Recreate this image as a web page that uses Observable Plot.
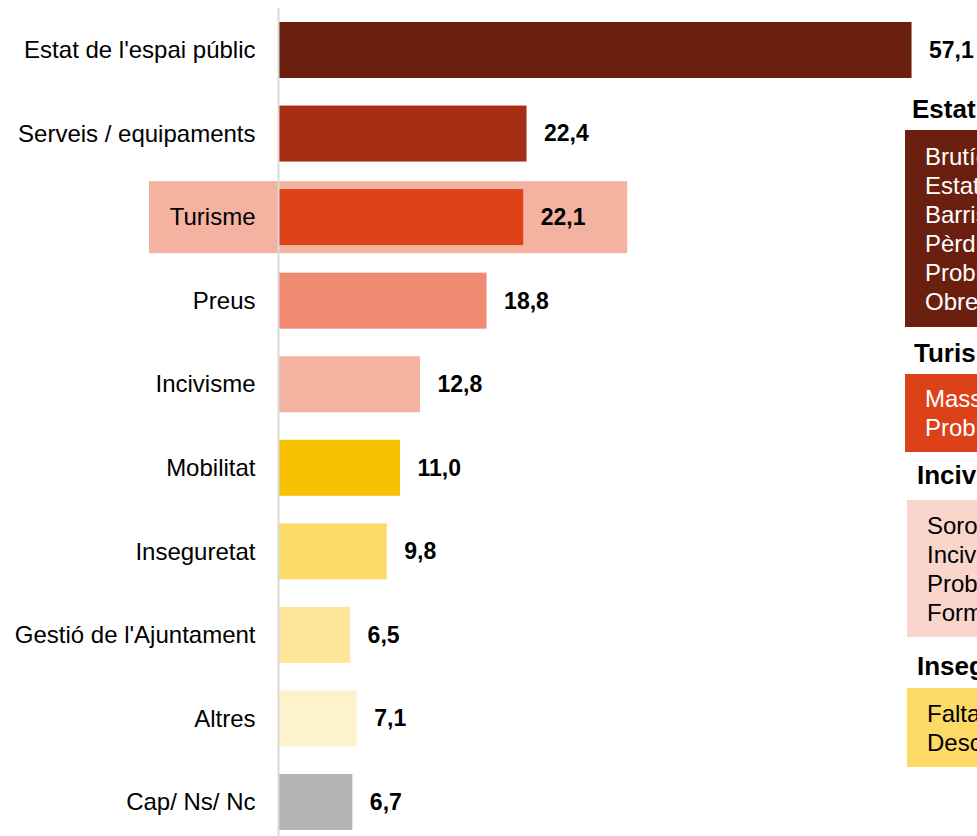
<!DOCTYPE html>
<html><head><meta charset="utf-8">
<script src="https://cdn.jsdelivr.net/npm/d3@7"></script>
<script src="https://cdn.jsdelivr.net/npm/@observablehq/plot@0.6"></script>
<style>
html,body{margin:0;padding:0;background:#fff;overflow:hidden;width:977px;height:836px;}
#wrap{position:relative;width:977px;height:836px;overflow:hidden;font-family:"Liberation Sans",Arial,sans-serif;}
#chart{position:absolute;left:0;top:0;}
.ttl{position:absolute;font-weight:bold;font-size:26px;line-height:29px;white-space:nowrap;color:#000;}
.box{position:absolute;width:420px;font-size:24px;line-height:29px;white-space:nowrap;box-sizing:border-box;}
</style></head><body><div id="wrap"><div id="chart"></div></div>
<script>
const categories = ["Estat de l'espai públic","Serveis / equipaments","Turisme","Preus","Incivisme","Mobilitat","Inseguretat","Gestió de l'Ajuntament","Altres","Cap/ Ns/ Nc"];
const values = [57.1,22.4,22.1,18.8,12.8,11.0,9.8,6.5,7.1,6.7];
const colors = ["#6b1f0f","#a52e14","#dd4118","#f08a72","#f4b2a0","#f5c100","#fdd966","#fde699","#fef2cc","#b3b3b3"];
const highlighted = "Turisme";
const highlightColor = "#f4b2a0";

const panelTitles = ["Estat de l'espai públic","Turisme","Incivisme","Inseguretat"];
const panelItems = [
  ["Brutícia","Estat dels carrers i voreres","Barris abandonats","Pèrdua de comerç","Problemes de manteniment","Obres"],
  ["Massificació turística","Problemes derivats del turisme"],
  ["Sorolls","Incivisme","Problemes de convivència","Formes de vida"],
  ["Falta de seguretat","Descontrol"]
];
const panelColors = ["#6b1f0f","#dd4118","#f9d5cc","#fdd966"];
const panelTextColors = ["#fff","#fff","#000","#000"];

const data = categories.map((c,i)=>({category:c, value:values[i], color:colors[i]}));
const fmt = v => d3.format(".1f")(v).replace(".", ",");

const plot = Plot.plot({
  width: 977, height: 836,
  marginLeft: 278, marginRight: 0, marginTop: 22, marginBottom: 6,
  style: {fontFamily: "'Liberation Sans', Arial, sans-serif", fontSize: "24px", color: "#000", background: "transparent", overflow: "visible"},
  x: {domain: [0, 63], axis: null},
  y: {domain: categories, paddingInner: 0.33, paddingOuter: 0, round: false, axis: null},
  color: {type: "identity"},
  marks: [
    Plot.barX(data.filter(d => d.category === highlighted), {
      x1: 0, x2: "value", y: "category", fill: highlightColor,
      insetLeft: -129, insetRight: -104, insetTop: -8, insetBottom: -8
    }),
    Plot.barX(data, {x: "value", y: "category", fill: "color"}),
    Plot.ruleX([0], {stroke: "#d9d9d9", strokeWidth: 2, insetTop: -14, insetBottom: -6}),
    Plot.text(data, {y: "category", text: "category", frameAnchor: "left", dx: -23, textAnchor: "end", fontSize: 24, fill: "#000"}),
    Plot.text(data, {x: "value", y: "category", text: d => fmt(d.value), dx: 17, textAnchor: "start", fontWeight: "bold", fontSize: 23, fill: "#000"})
  ]
});
document.getElementById("chart").appendChild(plot);

// side panel (annotation boxes, partially cut by the page edge)
const wrap = document.getElementById("wrap");
const titleLayout = [{left:912, top:95},{left:914, top:339},{left:917, top:461},{left:917, top:652}];
const boxLayout = [{left:905, top:130, bottom:327, pad:20},{left:905, top:374, bottom:452, pad:20},{left:907, top:500, bottom:637, pad:20},{left:907, top:688, bottom:767, pad:20}];
panelTitles.forEach((t,i)=>{
  const el = document.createElement("div");
  el.className = "ttl";
  el.textContent = t;
  el.style.left = titleLayout[i].left + "px";
  el.style.top = titleLayout[i].top + "px";
  wrap.appendChild(el);
  const b = document.createElement("div");
  b.className = "box";
  const L = boxLayout[i];
  b.style.left = L.left + "px";
  b.style.top = L.top + "px";
  b.style.height = (L.bottom - L.top) + "px";
  b.style.background = panelColors[i];
  b.style.color = panelTextColors[i];
  const n = panelItems[i].length;
  const padTop = ((L.bottom - L.top) - n*29)/2;
  b.style.paddingTop = padTop + "px";
  b.style.paddingLeft = L.pad + "px";
  b.innerHTML = panelItems[i].map(s => "<div>" + s + "</div>").join("");
  wrap.appendChild(b);
});
</script>
</body></html>
